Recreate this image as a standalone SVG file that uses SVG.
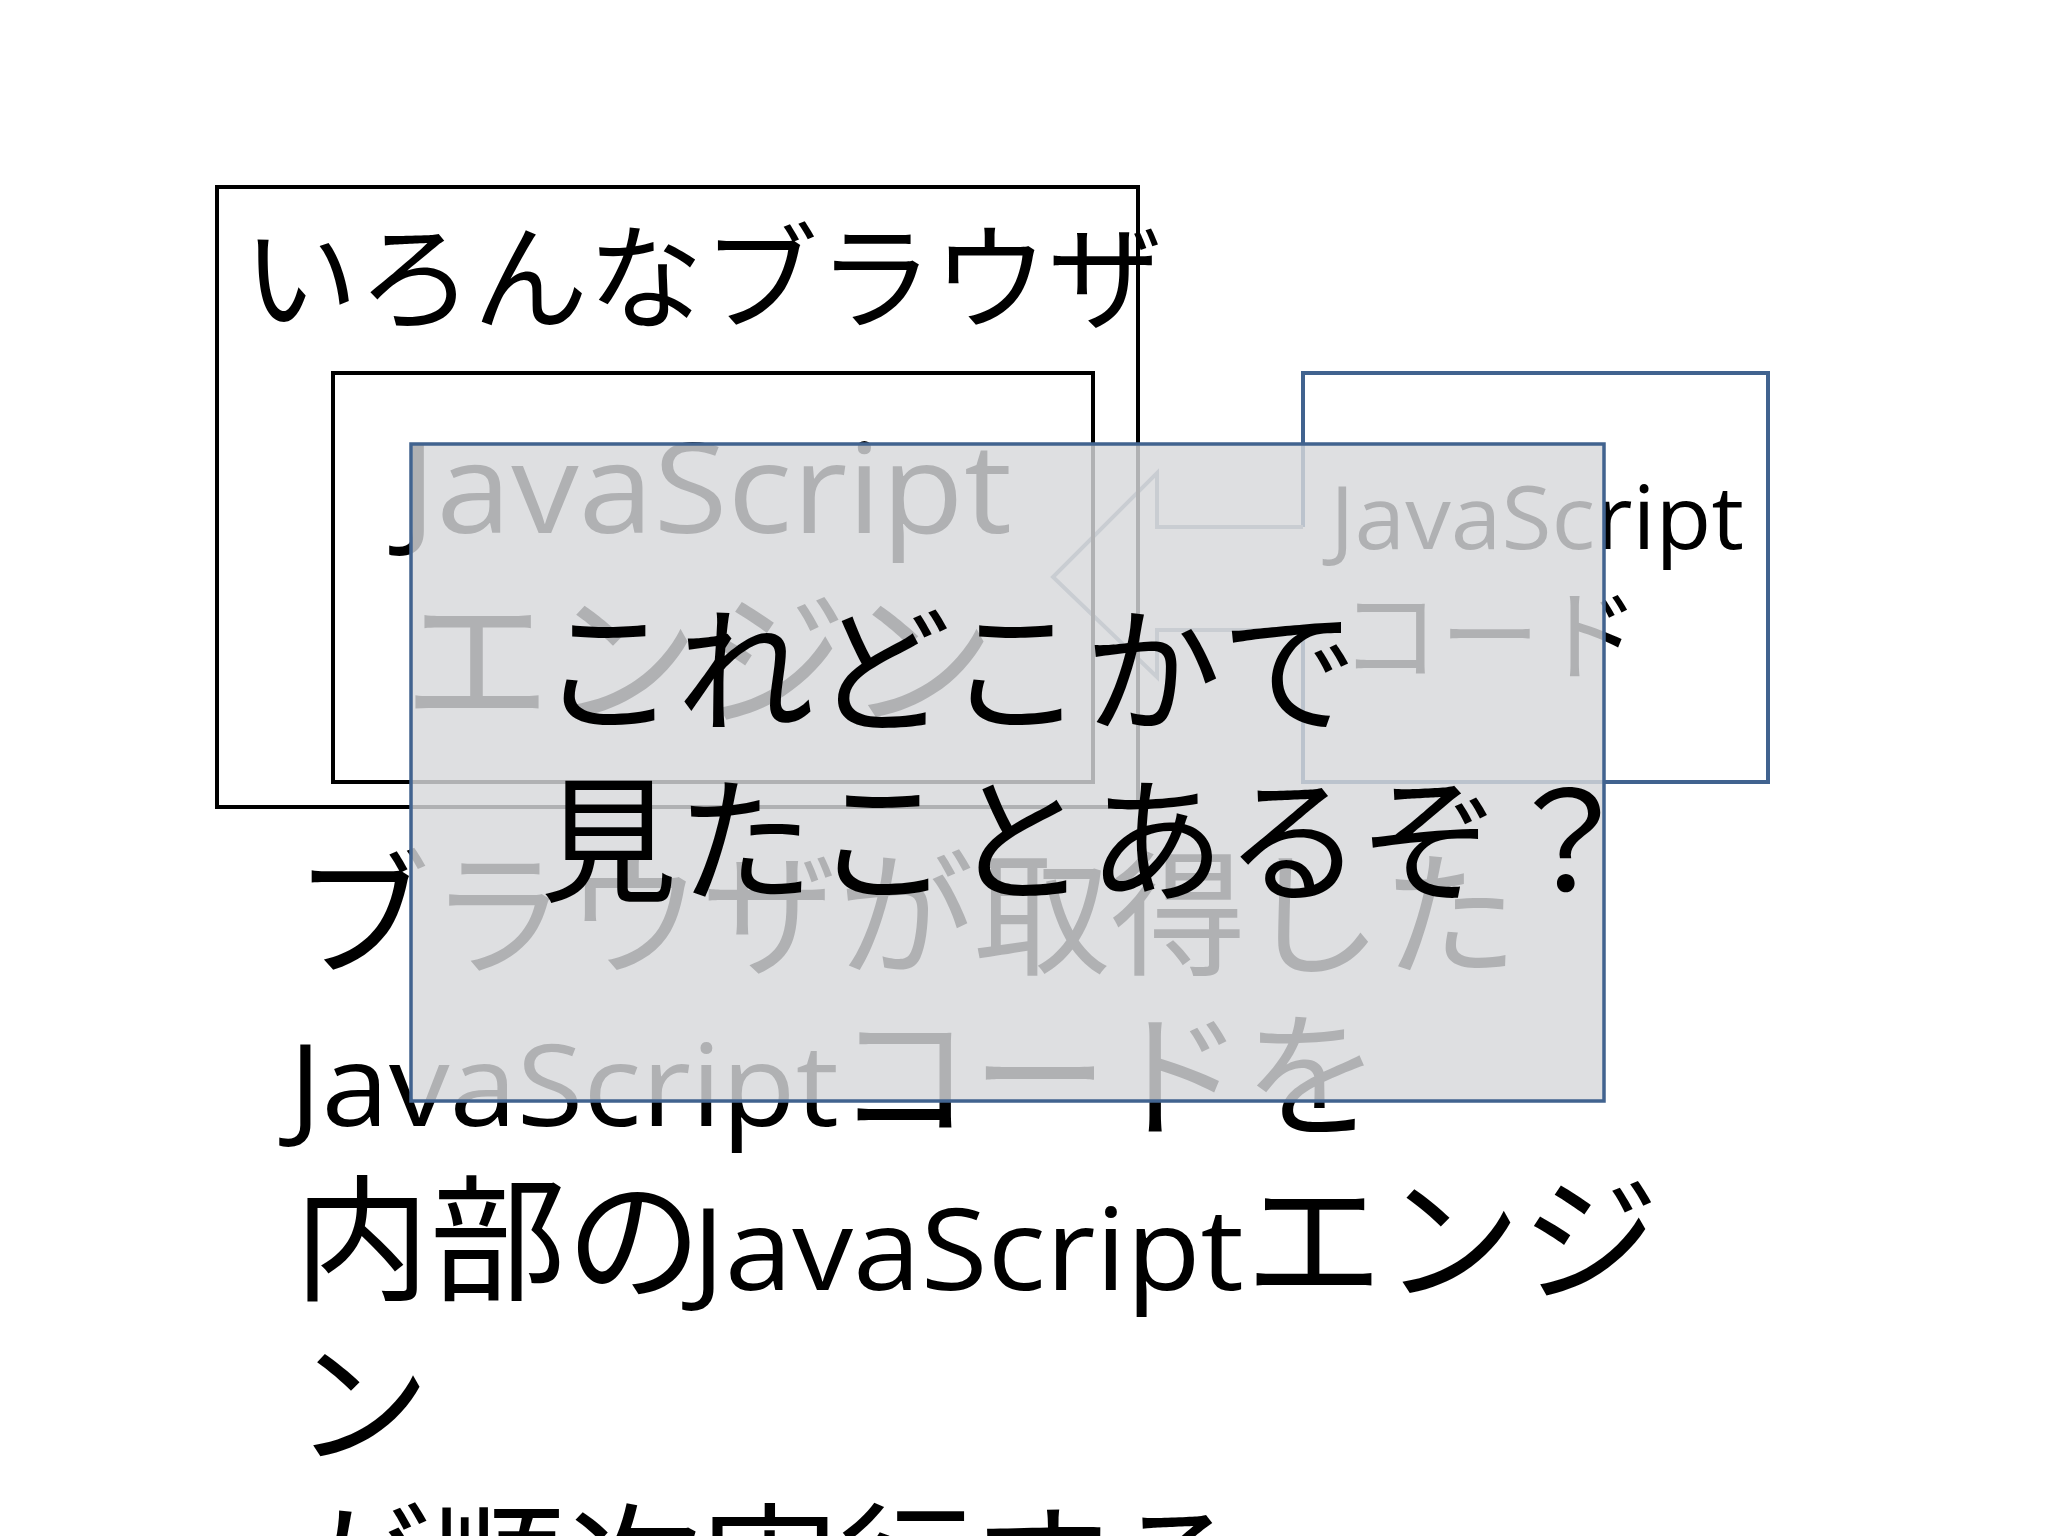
<svg xmlns="http://www.w3.org/2000/svg" width="2048" height="1536" viewBox="0 0 2048 1536">
<style>
.jp{font-family:"Noto Sans CJK JP","Noto Sans CJK SC",sans-serif;fill:#000;}
.lat{font-family:"Open Sans","Liberation Sans",sans-serif;fill:#000;}
.frame{fill:none;stroke:#000;stroke-width:4;}
.blue{stroke:#41638f;stroke-width:4;}
</style>
<rect x="0" y="0" width="2048" height="1536" fill="#ffffff"/>

<g id="node-jscode">
  <rect class="blue" x="1303" y="373" width="465" height="409" fill="#ffffff"/>
  <text class="lat" x="1330" y="549" font-size="88" textLength="414" lengthAdjust="spacingAndGlyphs">JavaScript</text>
  <text class="jp" x="1340" y="672" font-size="100">コード</text>
</g>

<g id="connectors">
  <path d="M1306,527 L1157,527 L1157,473 L1053,577 L1157,677 L1157,630 L1306,630 Z" fill="#ffffff" stroke="none"/>
  <polyline points="1303,527 1157,527 1157,473 1053,577 1157,677 1157,630 1303,630" fill="none" stroke="#8d9cae" stroke-width="4" stroke-linejoin="miter"/>
</g>

<g id="node-browsers">
  <rect class="frame" x="217" y="187" width="921" height="620"/>
  <text class="jp" x="243" y="320" font-size="115">いろんなブラウザ</text>
</g>

<g id="node-engine">
  <rect class="frame" x="333" y="373" width="760" height="409"/>
  <text class="lat" x="400" y="533" font-size="125" textLength="612" lengthAdjust="spacingAndGlyphs">JavaScript</text>
  <text class="jp" x="403" y="714" font-size="148">エンジン</text>
</g>

<g id="body-text">
  <text class="jp" x="294" y="965" font-size="136">ブラウザが取得した</text>
  <text class="lat" x="289" y="1126" font-size="113" textLength="550" lengthAdjust="spacingAndGlyphs">JavaScript</text>
  <text class="jp" x="836" y="1126" font-size="136">コードを</text>
  <text class="jp" x="294" y="1290" font-size="136">内部の</text>
  <text class="lat" x="692" y="1290" font-size="113" textLength="552" lengthAdjust="spacingAndGlyphs">JavaScript</text>
  <text class="jp" x="1245" y="1290" font-size="138">エンジ</text>
  <text class="jp" x="294" y="1454" font-size="136">ン</text>
  <text class="jp" x="294" y="1618" font-size="136">が順次実行する</text>
</g>

<g id="node-overlay">
  <rect x="411" y="444" width="1193" height="657" fill="#d7d8db" fill-opacity="0.82" stroke="#41638f" stroke-width="3.5"/>
  <text class="jp" x="540" y="722" font-size="137">これどこかで</text>
  <text class="jp" x="540" y="892" font-size="137">見たことあるぞ？</text>
</g>
</svg>
